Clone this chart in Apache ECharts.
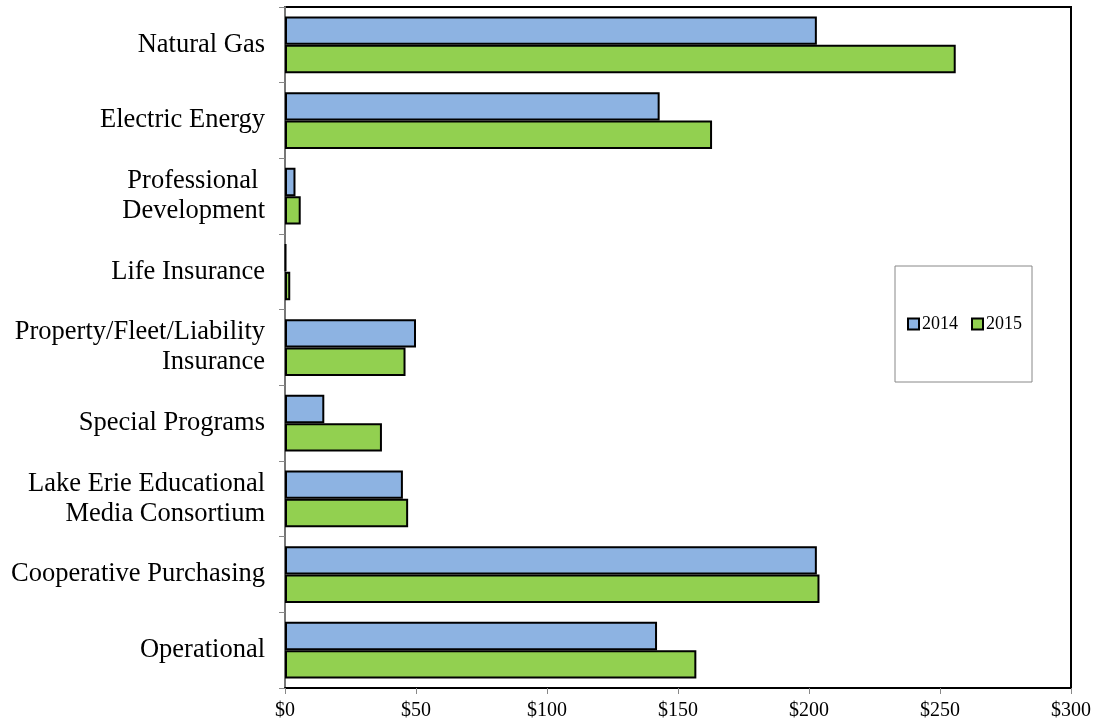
<!DOCTYPE html>
<html>
<head>
<meta charset="utf-8">
<script src="https://cdn.jsdelivr.net/npm/echarts@6/dist/echarts.min.js"></script>
<style>html,body{margin:0;padding:0;background:#fff}#c{width:1096px;height:725px}</style>
</head>
<body>
<div id="c"></div>
<script>
const categories = ["Natural Gas", "Electric Energy", "Professional \nDevelopment", "Life Insurance", "Property/Fleet/Liability\nInsurance", "Special Programs", "Lake Erie Educational\nMedia Consortium", "Cooperative Purchasing", "Operational"];
const values2014 = [203, 143, 4, 0.4, 50, 15, 45, 203, 142];
const values2015 = [256, 163, 6, 2, 46, 37, 47, 204, 157];
const xTicks = [0, 50, 100, 150, 200, 250, 300];

const chart = echarts.init(document.getElementById('c'));
const font = 'Liberation Serif, Times New Roman, serif';
chart.setOption({
  animation: false,
  textStyle: {fontFamily: font},
  grid: {left: 285, right: 25, top: 7, bottom: 37, show: true, borderColor: '#000', borderWidth: 2, backgroundColor: 'transparent'},
  legend: {
    left: 895, top: 266, orient: 'horizontal',
    data: ['2014', '2015'],
    icon: 'rect', itemWidth: 11, itemHeight: 11, itemGap: 13,
    borderColor: '#888', borderWidth: 1, padding: [49, 10, 49, 12],
    textStyle: {fontFamily: font, fontSize: 18, color: '#000', padding: [0, 0, 0, -2]}
  },
  xAxis: {
    type: 'value', min: 0, max: 300, interval: 50,
    axisLine: {show: true, lineStyle: {color: '#000', width: 2}},
    axisTick: {show: true, length: 6, lineStyle: {color: '#888'}},
    splitLine: {show: false},
    axisLabel: {fontFamily: font, fontSize: 20, color: '#000', margin: 13, formatter: v => '$' + v}
  },
  yAxis: {
    type: 'category', data: categories, inverse: true,
    axisLine: {show: true, lineStyle: {color: '#777', width: 2}},
    axisTick: {show: true, length: 6, lineStyle: {color: '#888'}},
    axisLabel: {fontFamily: font, fontSize: 26.5, color: '#000', margin: 20, lineHeight: 30, align: 'right'}
  },
  series: [
    {name: '2014', type: 'bar', data: values2014, barGap: '0%', barCategoryGap: '25%',
     itemStyle: {color: '#8DB3E2', borderColor: '#000', borderWidth: 2}},
    {name: '2015', type: 'bar', data: values2015,
     itemStyle: {color: '#92D050', borderColor: '#000', borderWidth: 2}}
  ]
});
</script>
</body>
</html>
